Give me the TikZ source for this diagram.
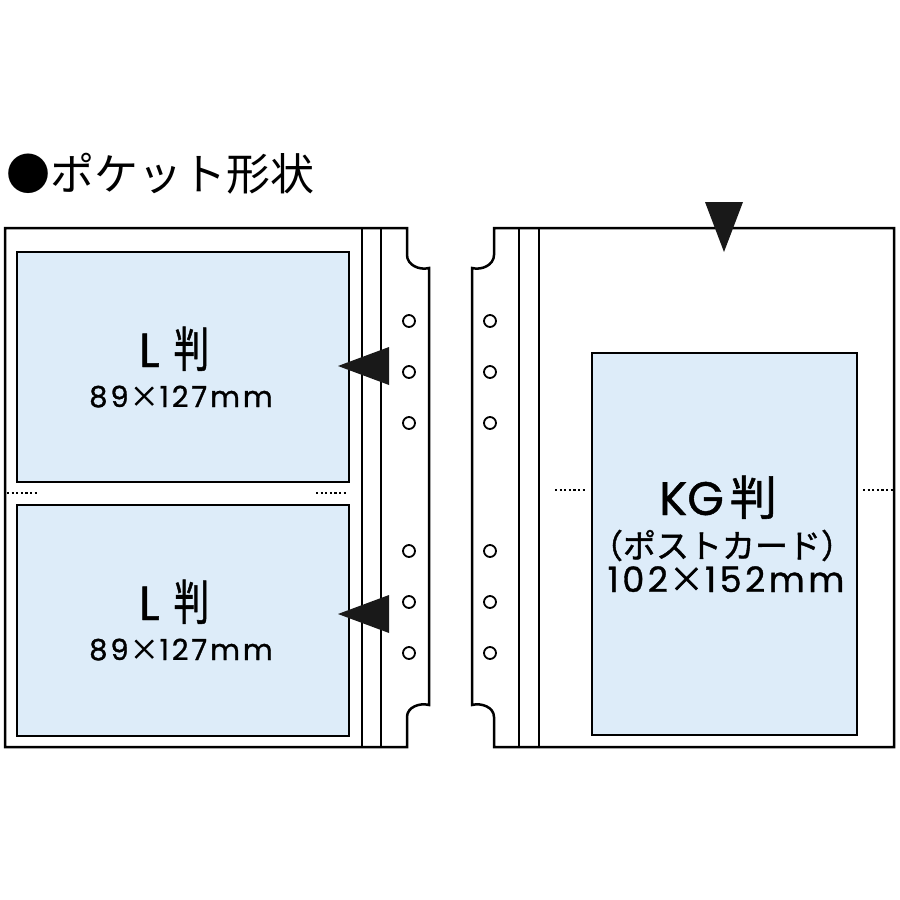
\documentclass[tikz,border=0pt]{standalone}
\usepackage{fontspec}
\newfontfamily\jp{Noto Sans CJK JP}
\newfontfamily\jpm{Noto Sans CJK JP}[FakeBold=1.2]
\newfontfamily\lat{Poppins}[FakeBold=1.0]
\newfontfamily\latsp{Poppins}[FakeBold=1.0,LetterSpace=10]
\definecolor{pocket}{RGB}{221,236,249}
\newcommand{\tms}{{\jpm\hspace{1pt}×\hspace{1pt}}}
\begin{document}
\begin{tikzpicture}[x=1pt,y=-1pt,
  outline/.style={line width=2.5pt,line join=miter},
  rail/.style={line width=2.2pt},
  pocketbox/.style={draw,line width=2.2pt,fill=pocket},
  hole/.style={draw,line width=1.8pt,fill=white},
  dots/.style={line width=1.6pt,dash pattern=on 2.2pt off 2.4pt},
  marker/.style={fill=black!90,draw=none},
  lbl/.style={anchor=base,inner sep=0pt}]
\useasboundingbox (0,0) rectangle (900,900);
% title
\node[lbl,anchor=base west] (title) at (6,190) {\jp\fontsize{44}{44}\selectfont ●ポケット形状};
% left page
\draw[outline] (5,228) -- (407,228) -- (407,255) to[out=-90,in=195] (429,268) -- (429,705)
  to[out=165,in=90] (407,717) -- (407,747) -- (5,747) -- cycle;
\draw[rail] (362,228) -- (362,747) (381,228) -- (381,747);
\node[pocketbox,minimum width=332pt,minimum height=230pt,inner sep=0pt] (pa) at (183,367) {};
\node[pocketbox,minimum width=332pt,minimum height=231pt,inner sep=0pt] (pb) at (183,620.5) {};
\draw[dots] (7,493) -- (37,493) (316,493) -- (347,493);
\foreach \y in {321,372,423,551,602,653} \draw[hole] (409,\y) circle (6);
\fill[marker] (338,366) -- (389,347) -- (389,385) -- cycle;
\fill[marker] (338,614) -- (389,595) -- (389,633) -- cycle;
\node[lbl] (la) at (174,367) {\lat\fontsize{48}{48}\selectfont L\hspace{14pt}\jpm\scalebox{0.74}[1]{判}};
\node[lbl] (sa) at (181,407) {\latsp\fontsize{29}{29}\selectfont 89\tms127mm};
\node[lbl] (lb) at (174,620) {\lat\fontsize{48}{48}\selectfont L\hspace{14pt}\jpm\scalebox{0.74}[1]{判}};
\node[lbl] (sb) at (181,660) {\latsp\fontsize{29}{29}\selectfont 89\tms127mm};
% right page
\draw[outline] (894,228) -- (494,228) -- (494,255) to[out=-90,in=-15] (472,268) -- (472,705)
  to[out=15,in=90] (494,717) -- (494,747) -- (894,747) -- cycle;
\draw[rail] (519,228) -- (519,747) (539,228) -- (539,747);
\foreach \y in {321,372,423,551,602,653} \draw[hole] (490,\y) circle (6);
\node[pocketbox,minimum width=265pt,minimum height=382pt,inner sep=0pt] (kg) at (724.5,544) {};
\draw[dots] (555,490) -- (586,490) (863,490) -- (893,490);
\fill[marker] (705,202) -- (743,202) -- (724,252) -- cycle;
\node[lbl] (kgt) at (718,515) {\lat\fontsize{47}{47}\selectfont KG\hspace{6pt}\jpm 判};
\node[lbl] (kgs) at (722,558) {\jpm\fontsize{33}{33}\selectfont （ポストカード）};
\node[lbl] (kgm) at (726,592) {\latsp\fontsize{35}{35}\selectfont 102\tms152mm};
\end{tikzpicture}
\end{document}
